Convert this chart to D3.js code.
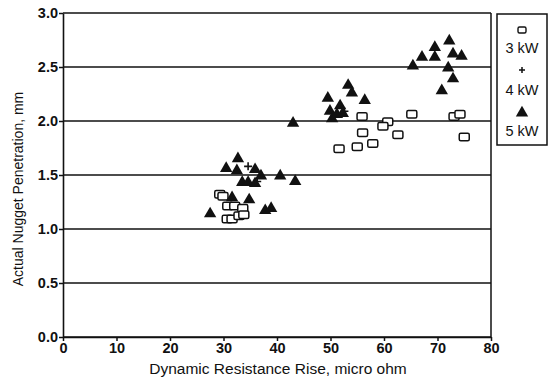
<!DOCTYPE html>
<html>
<head>
<meta charset="utf-8">
<script src="https://cdn.jsdelivr.net/npm/d3@7"></script>
<style>
  body { margin: 0; background: #fff; }
  text { font-family: "Liberation Sans", Arial, sans-serif; fill: #111; }
</style>
</head>
<body>
<div id="chart"></div>
<script>
const width = 551;
const height = 383;
const margin = {top: 13, right: 60, bottom: 46, left: 64};

// 3 kW points [resistance rise, penetration]
const kw3 = [
  [29.3, 1.32], [29.9, 1.30], [30.8, 1.21], [32.1, 1.21], [33.6, 1.19],
  [30.7, 1.09], [31.6, 1.09], [32.9, 1.12], [33.8, 1.13],
  [55.9, 2.04], [60.7, 1.99], [59.8, 1.95], [65.2, 2.06], [73.1, 2.04],
  [74.2, 2.06], [56.0, 1.89], [62.6, 1.87], [75.0, 1.85], [57.9, 1.79],
  [55.0, 1.76], [51.6, 1.74]
];
// 4 kW points
const kw4 = [[34.6, 1.58], [36.3, 1.44], [52.6, 2.09]];
// 5 kW points
const kw5 = [
  [72.2, 2.75], [69.5, 2.69], [67.1, 2.60], [69.5, 2.60], [72.9, 2.63],
  [74.5, 2.61], [65.4, 2.52], [72.0, 2.50], [72.9, 2.40], [70.8, 2.29],
  [53.3, 2.34], [54.0, 2.27], [49.5, 2.22], [56.4, 2.20], [51.8, 2.15],
  [49.9, 2.10], [52.3, 2.08], [50.3, 2.03], [51.2, 2.07], [43.0, 1.99],
  [32.7, 1.66], [30.5, 1.57], [32.5, 1.55], [35.9, 1.56], [37.0, 1.50],
  [40.6, 1.50], [43.4, 1.45], [33.5, 1.44], [34.6, 1.44], [35.9, 1.43],
  [31.6, 1.30], [34.8, 1.28], [27.5, 1.15], [37.8, 1.18], [38.9, 1.20]
];

const xTicks = [0, 10, 20, 30, 40, 50, 60, 70, 80];
const yTicks = [0, 0.5, 1.0, 1.5, 2.0, 2.5, 3.0];
const legendLabels = ['3 kW', '4 kW', '5 kW'];

const svg = d3.select('#chart').append('svg')
  .attr('width', width)
  .attr('height', height);

const x = d3.scaleLinear().domain([0, 80]).range([margin.left - 1, width - margin.right]);
const y = d3.scaleLinear().domain([0, 3]).range([height - margin.bottom, margin.top]);

// horizontal grid lines
svg.append('g')
  .selectAll('line')
  .data(yTicks)
  .enter()
  .append('line')
  .attr('x1', x(0))
  .attr('x2', x(80))
  .attr('y1', d => y(d))
  .attr('y2', d => y(d))
  .attr('stroke', '#111')
  .attr('stroke-width', 1.6);

// right border
svg.append('line')
  .attr('x1', x(80)).attr('x2', x(80))
  .attr('y1', y(0)).attr('y2', y(3))
  .attr('stroke', '#111').attr('stroke-width', 1.5);

// axes
const xAxis = svg.append('g')
  .attr('transform', 'translate(0,' + y(0) + ')')
  .call(d3.axisBottom(x).tickValues(xTicks).tickSize(4).tickSizeOuter(0));
const yAxis = svg.append('g')
  .attr('transform', 'translate(' + x(0) + ',0)')
  .call(d3.axisLeft(y).tickValues(yTicks).tickFormat(d3.format('.1f')).tickSize(4).tickSizeOuter(0));

[xAxis, yAxis].forEach(g => {
  g.select('.domain').attr('stroke', '#111').attr('stroke-width', 1.6);
  g.selectAll('.tick line').attr('stroke', '#111').attr('stroke-width', 1.5);
  g.selectAll('.tick text')
    .attr('font-size', 14.5)
    .attr('font-weight', 'bold')
    .attr('fill', '#111')
    .style('font-family', '"Liberation Sans", Arial, sans-serif');
});
xAxis.selectAll('.tick text').attr('dy', '0.6em');
yAxis.selectAll('.tick text').attr('dx', '2');

// axis titles
svg.append('text')
  .attr('x', (x(0) + x(80)) / 2 + 1)
  .attr('y', height - 9)
  .attr('text-anchor', 'middle')
  .attr('font-size', 15.5)
  .text('Dynamic Resistance Rise, micro ohm');

svg.append('text')
  .attr('transform', 'translate(23,' + ((y(0) + y(3)) / 2 + 14) + ') rotate(-90)')
  .attr('text-anchor', 'middle')
  .attr('font-size', 14)
  .text('Actual Nugget Penetration, mm');

// marker drawers
const tri = d3.symbol().type(d3.symbolTriangle).size(66);

function drawSquares(g, data) {
  g.selectAll('.sq')
    .data(data)
    .enter()
    .append('rect')
    .attr('class', 'sq')
    .attr('x', d => x(d[0]) - 5)
    .attr('y', d => y(d[1]) - 4)
    .attr('width', 10)
    .attr('height', 7.5)
    .attr('rx', 1.5)
    .attr('fill', '#fff')
    .attr('stroke', '#111')
    .attr('stroke-width', 1.5);
}

function drawTriangles(g, data) {
  g.selectAll('.tri')
    .data(data)
    .enter()
    .append('path')
    .attr('class', 'tri')
    .attr('d', tri)
    .attr('transform', d => 'translate(' + x(d[0]) + ',' + (y(d[1]) + 1) + ')')
    .attr('fill', '#111');
}

function drawPlus(g, data) {
  g.selectAll('.plus')
    .data(data)
    .enter()
    .append('path')
    .attr('class', 'plus')
    .attr('d', d => {
      const cx = x(d[0]), cy = y(d[1]);
      return `M${cx - 4},${cy}H${cx + 4}M${cx},${cy - 4}V${cy + 4}`;
    })
    .attr('stroke', '#111')
    .attr('stroke-width', 1.6);
}

const marks = svg.append('g');
drawSquares(marks, kw3);
drawPlus(marks, kw4);
drawTriangles(marks, kw5);

// legend
const legend = svg.append('g');
legend.append('rect')
  .attr('x', 497).attr('y', 14)
  .attr('width', 50).attr('height', 131)
  .attr('fill', '#fff')
  .attr('stroke', '#111')
  .attr('stroke-width', 1.5);

const lx = 522;
legend.append('rect')
  .attr('x', lx - 4).attr('y', 27)
  .attr('width', 8).attr('height', 6).attr('rx', 1.5)
  .attr('fill', '#fff').attr('stroke', '#111').attr('stroke-width', 1.4);
legend.append('path')
  .attr('d', `M${lx - 3},70H${lx + 3}M${lx},67V73`)
  .attr('stroke', '#111').attr('stroke-width', 1.5);
legend.append('path')
  .attr('d', tri)
  .attr('transform', 'translate(' + lx + ',113)')
  .attr('fill', '#111');

legend.selectAll('.lab')
  .data(legendLabels)
  .enter()
  .append('text')
  .attr('class', 'lab')
  .attr('x', lx)
  .attr('y', (d, i) => 53 + i * 41.5)
  .attr('text-anchor', 'middle')
  .attr('font-size', 14.5)
  .text(d => d);
</script>
</body>
</html>
